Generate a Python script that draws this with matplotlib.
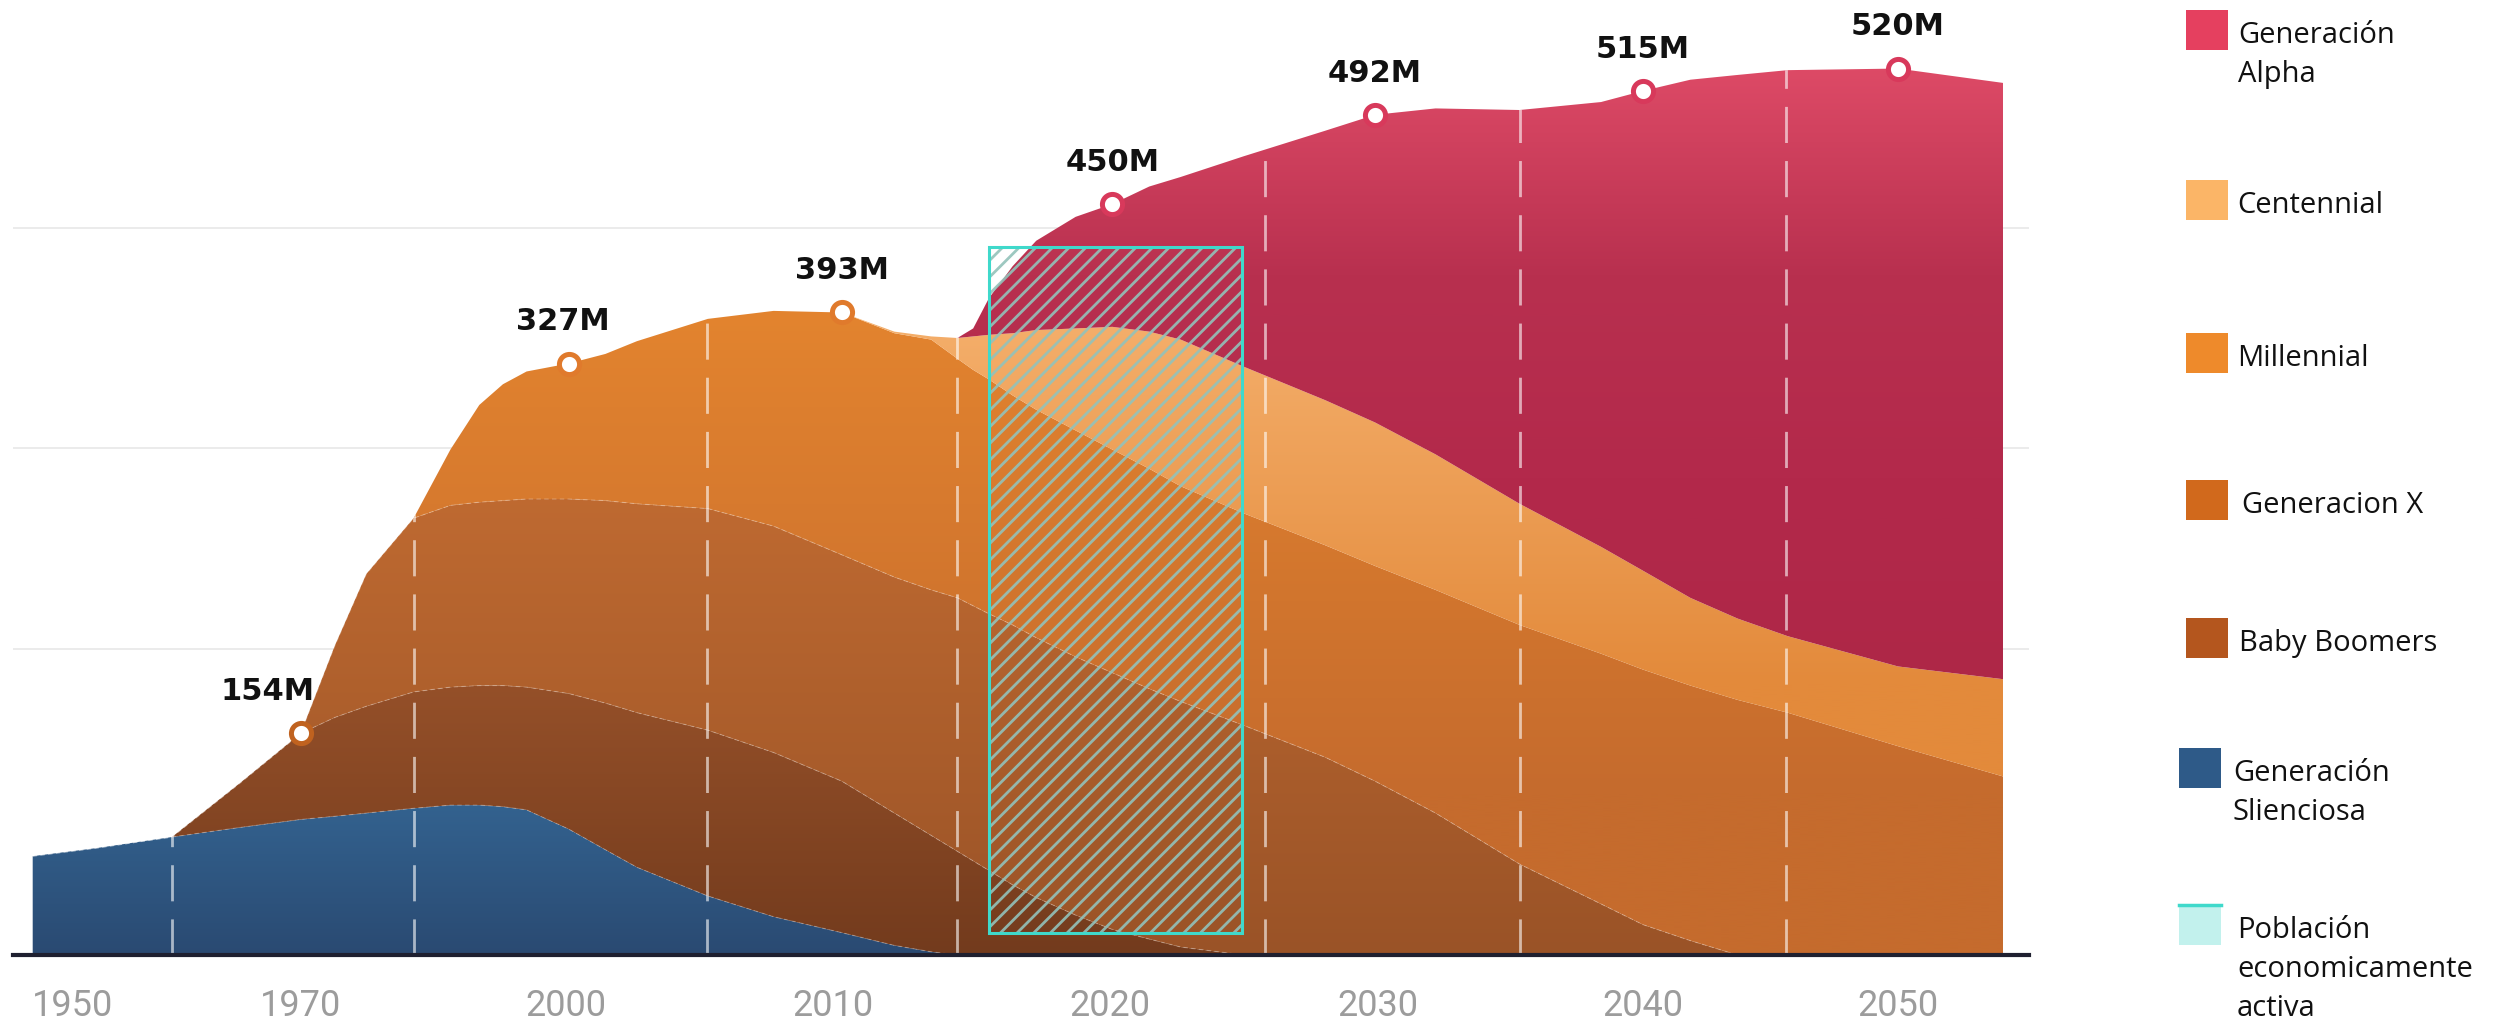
import numpy as np
import matplotlib.pyplot as plt
from matplotlib.colors import LinearSegmentedColormap
from matplotlib.patches import Rectangle

# positions along the x axis (one unit = one label slot)
x = [-0.10, 0.14, 0.43, 0.69, 0.92, 1.05, 1.17, 1.35, 1.49, 1.60, 1.69, 1.78,
     1.94, 2.08, 2.20, 2.47, 2.72, 2.98, 3.18, 3.32, 3.42, 3.48, 3.54, 3.63,
     3.72, 3.87, 4.01, 4.15, 4.27, 4.51, 4.82, 5.01, 5.24, 5.56, 5.87, 6.03,
     6.21, 6.39, 6.58, 7.00, 7.40]

# size of each generation (drawn stacked)
silent = [62, 67, 74, 80, 85, 87, 89, 92, 94, 94, 93, 91, 79, 66, 55, 37, 24, 14,
          6, 2, 0, 0, 0, 0, 0, 0, 0, 0, 0, 0, 0, 0, 0, 0, 0, 0, 0, 0, 0, 0, 0]
boomers = [0, 0, 0, 28, 54, 62, 67, 73, 74, 75, 76, 77, 85, 92, 97, 104, 103, 95,
           83, 73, 65, 59, 53, 44, 36, 25, 16, 10, 5, 0, 0, 0, 0, 0, 0, 0, 0, 0,
           0, 0, 0]
genx = [0, 0, 0, 0, 0, 45, 83, 109, 114, 115, 116, 118, 122, 127, 131, 139, 142,
        142, 148, 154, 159, 160, 161, 163, 163, 162, 161, 157, 154, 144, 124, 109,
        89, 57, 32, 19, 9, 0, 0, 0, 0]
millennial = [0, 0, 0, 0, 0, 0, 0, 0, 35, 61, 73, 80, 85, 92, 102, 119, 135, 152,
              153, 157, 150, 148, 147, 144, 143, 142, 140, 138, 135, 133, 133, 135,
              140, 150, 157, 160, 160, 160, 152, 131, 112]
centennial = [0, 0, 0, 0, 0, 0, 0, 0, 0, 0, 0, 0, 0, 0, 0, 0, 0, 0, 1, 2, 13, 21,
              28, 39, 50, 64, 77, 86, 92, 92, 91, 90, 85, 76, 67, 62, 55, 51, 48,
              50, 61]
alpha = [0, 0, 0, 0, 0, 0, 0, 0, 0, 0, 0, 0, 0, 0, 0, 0, 0, 0, 0, 0, 0, 5, 23, 42,
         56, 70, 77, 91, 102, 132, 169, 193, 217, 247, 279, 301, 325, 341, 355,
         375, 374]

tick_pos = [0.05, 0.92, 1.93, 2.945, 4.0, 5.02, 6.03, 7.0]
tick_labels = ['1950', '1970', '2000', '2010', '2020', '2030', '2040', '2050']

marker_idx = [4, 12, 17, 26, 31, 35, 39]
marker_labels = ['154M', '327M', '393M', '450M', '492M', '515M', '520M']
marker_colors = ['#c0621f', '#e07a2c', '#e07a2c', '#d8395b', '#d8395b', '#d8395b', '#d8395b']
label_dx = [-24, -4, 0, 0, 0, 0, 0]

divider_x = [0.43, 1.35, 2.465, 3.42, 4.59, 5.56, 6.575]
grid_y = [192, 318, 456]

active_x0, active_x1 = 3.54, 4.505
active_y0, active_y1 = 14, 444

series = [silent, boomers, genx, millennial, centennial, alpha]
# vertical gradients: (ymin, ymax, colors bottom -> top)
grads = [
    (0, 94, ['#2a4a72', '#33628f']),
    (0, 170, ['#733b1d', '#955029']),
    (0, 290, ['#9a5327', '#bf6a31']),
    (100, 405, ['#c56b2d', '#e3842f']),
    (170, 395, ['#e38a3b', '#f4ae6a']),
    (170, 556, ['#ae2747', '#b3294b', '#b8304f', '#dd4a66']),
]

legend_items = [
    (['Generación', 'Alpha'], '#e5405f'),
    (['Centennial'], '#fbb567'),
    (['Millennial'], '#ee8a2b'),
    (['Generacion X'], '#d1691c'),
    (['Baby Boomers'], '#b4561e'),
    (['Generación', 'Slienciosa'], '#2e5a88'),
    (['Población', 'economicamente', 'activa'], '#c2f1ed'),
]
legend_box_x = [2186, 2186, 2186, 2186, 2186, 2179, 2179]
legend_box_y = [10, 180, 333, 480, 618, 748, 905]
legend_text_x = [2238, 2237, 2237, 2242, 2239, 2233, 2237]

plt.rcParams['hatch.linewidth'] = 2.0

W, H = 2501, 1035
fig = plt.figure(figsize=(W / 100, H / 100), dpi=100)
ax = fig.add_axes([13 / W, 80 / H, (2029 - 13) / W, 955 / H])
xmin, xmax, ymax = -0.175, 7.499, 599

for gy in grid_y:
    ax.axhline(gy, color='#e8e8e8', lw=1.2, zorder=0)

polys = ax.stackplot(x, *series, colors=['none'] * 6, zorder=2)
yy = np.linspace(0, ymax, 600)
for poly, (g0, g1, cols) in zip(polys, grads):
    poly.set_facecolor('none')
    poly.set_edgecolor('none')
    cmap = LinearSegmentedColormap.from_list('g', cols)
    frac = np.clip((yy - g0) / (g1 - g0), 0, 1).reshape(-1, 1)
    im = ax.imshow(frac, extent=[xmin, xmax, 0, ymax], origin='lower',
                   aspect='auto', cmap=cmap, vmin=0, vmax=1, zorder=2,
                   interpolation='bilinear')
    im.set_clip_path(poly.get_paths()[0], transform=ax.transData)

cum = np.cumsum(np.array(series), axis=0)
total = cum[-1]
for layer in cum[:3]:
    ax.plot(x, layer, color='white', alpha=0.25, lw=0.8, ls=(0, (4, 3)), zorder=3)

outline = ax.fill_between(x, 0, total, facecolor='none', edgecolor='none')
vl = ax.vlines(divider_x, 0, ymax, colors='white', alpha=0.6, lw=2,
               linestyles=(0, (13, 6.5)), zorder=4)
vl.set_clip_path(outline.get_paths()[0], transform=ax.transData)

# economically active population box
ax.add_patch(Rectangle((active_x0, active_y0), active_x1 - active_x0, active_y1 - active_y0,
                       facecolor='none', edgecolor='#93c2ba', lw=0, hatch='//',
                       alpha=0.9, zorder=5))
ax.add_patch(Rectangle((active_x0, active_y0), active_x1 - active_x0, active_y1 - active_y0,
                       facecolor='none', edgecolor='#3fd9cb', lw=2.2, zorder=6))

for i, lab, c, dx in zip(marker_idx, marker_labels, marker_colors, label_dx):
    ax.plot(x[i], total[i], 'o', ms=14.5, mfc='white', mec=c, mew=3.6, zorder=8)
    ax.annotate(lab, (x[i], total[i]), xytext=(dx, 30), textcoords='offset points',
                ha='center', va='center', fontsize=22, fontweight='bold',
                family='DejaVu Sans', color='#111111', zorder=9)

ax.set_xlim(xmin, xmax)
ax.set_ylim(0, ymax)
for s in ['top', 'right', 'left']:
    ax.spines[s].set_visible(False)
ax.spines['bottom'].set_linewidth(3)
ax.spines['bottom'].set_color('#1f2030')
ax.spines['bottom'].set_zorder(7)
ax.set_yticks([])
ax.set_xticks(tick_pos, tick_labels)
ax.tick_params(axis='x', length=0, pad=24, labelsize=26, labelcolor='#9c9c9c')
for t in ax.get_xticklabels():
    t.set_family('Roboto')

# legend
for (lines, c), bx, by, tx in zip(legend_items, legend_box_x, legend_box_y, legend_text_x):
    fig.patches.append(Rectangle((bx / W, 1 - (by + 40) / H), 42 / W, 40 / H,
                                 transform=fig.transFigure, facecolor=c, edgecolor='none'))
    if lines[0] == 'Población':
        fig.lines.append(plt.Line2D([bx / W, (bx + 42) / W], [1 - by / H, 1 - by / H],
                                    transform=fig.transFigure, color='#3fd9cb', lw=2.5))
    for k, line in enumerate(lines):
        fig.text(tx / W, 1 - (by + 33 + 39 * k) / H, line, fontsize=21,
                 family='Open Sans', color='#111111', va='baseline', ha='left')

fig.savefig('out.png', dpi=100)
